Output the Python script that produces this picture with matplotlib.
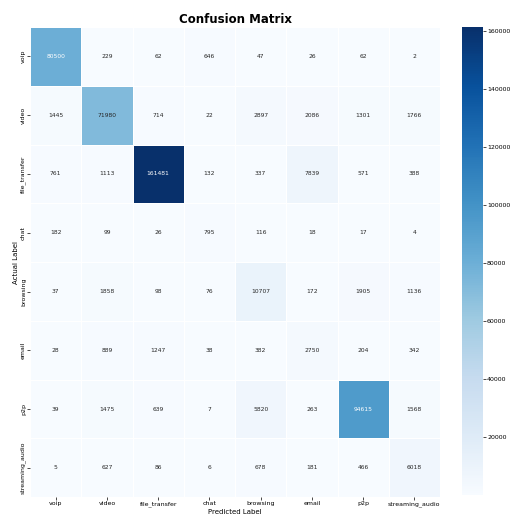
import numpy as np
import matplotlib
matplotlib.use("Agg")
import matplotlib.pyplot as plt
import seaborn as sns

labels = ["voip", "video", "file_transfer", "chat", "browsing", "email", "p2p", "streaming_audio"]

row_voip = [80500, 229, 62, 646, 47, 26, 62, 2]
row_video = [1445, 71980, 714, 22, 2897, 2086, 1301, 1766]
row_file_transfer = [761, 1113, 161481, 132, 337, 7839, 571, 388]
row_chat = [182, 99, 26, 795, 116, 18, 17, 4]
row_browsing = [37, 1858, 98, 76, 10707, 172, 1905, 1136]
row_email = [28, 889, 1247, 38, 382, 2750, 204, 342]
row_p2p = [39, 1475, 639, 7, 5820, 263, 94615, 1568]
row_streaming_audio = [5, 627, 86, 6, 678, 181, 466, 6018]

cm = np.array([row_voip, row_video, row_file_transfer, row_chat,
               row_browsing, row_email, row_p2p, row_streaming_audio])

fig = plt.figure(figsize=(5.11, 5.18), dpi=100)
ax = fig.add_axes([0.059, 0.04, 0.802, 0.908])
cax = fig.add_axes([0.905, 0.045, 0.04, 0.903])

sns.heatmap(cm, annot=True, fmt="d", cmap="Blues", ax=ax, cbar_ax=cax,
            xticklabels=labels, yticklabels=labels,
            linewidths=0.5, linecolor="white",
            annot_kws={"fontsize": 4.3})

ax.set_title("Confusion Matrix", fontsize=8.5, fontweight="bold", pad=3)
ax.set_xlabel("Predicted Label", fontsize=5, labelpad=1)
ax.set_ylabel("Actual Label", fontsize=5, labelpad=1)
ax.tick_params(axis="both", labelsize=4.5, length=2, width=0.5, pad=1)
ax.set_xticklabels(labels, rotation=0)
ax.set_yticklabels(labels, rotation=90, va="center")
cax.tick_params(labelsize=4.5, length=2, width=0.5, pad=1)
cax.set_yticks([20000, 40000, 60000, 80000, 100000, 120000, 140000, 160000])

fig.savefig("out.png", dpi=100)
